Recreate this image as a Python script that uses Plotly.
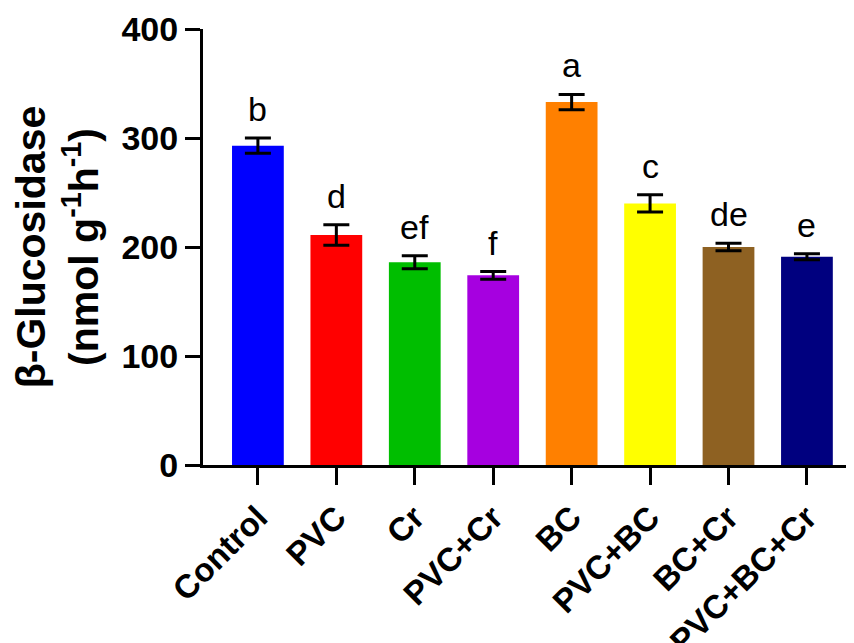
import plotly.graph_objects as go

categories = ["Control", "PVC", "Cr", "PVC+Cr", "BC", "PVC+BC", "BC+Cr", "PVC+BC+Cr"]
means = [293, 211, 186, 174, 333, 240, 200, 191]
errors = [7, 9.5, 6, 3.5, 7, 8, 3.5, 2.8]
letters = ["b", "d", "ef", "f", "a", "c", "de", "e"]
colors = ["#0000FF", "#FF0000", "#00BE00", "#A600E0", "#FF8000", "#FFFF00", "#8E6122", "#00007F"]
y_ticks = [0, 100, 200, 300, 400]

FONT = "Liberation Sans, Arial, Helvetica, sans-serif"

fig = go.Figure()
fig.add_trace(go.Bar(
    x=list(range(len(categories))),
    y=means,
    width=0.66,
    marker=dict(color=colors, line=dict(width=0)),
    error_y=dict(type="data", array=errors, visible=True, color="black", thickness=3, width=13),
    showlegend=False,
))

for i, (m, e, t) in enumerate(zip(means, errors, letters)):
    fig.add_annotation(x=i, y=m + e, text=t, showarrow=False, xref="x", yref="y",
                       yanchor="bottom", yshift=8,
                       font=dict(family=FONT, size=34, color="black"))

# page body has an 8px margin; figure sized to fill the rest of the window
fig.update_layout(
    width=846, height=635,
    margin=dict(l=195, r=0, t=21, b=178, autoexpand=False),
    paper_bgcolor="white", plot_bgcolor="white",
    bargap=0.34,
)
fig.update_xaxes(
    range=[-0.7, 7.6],
    tickmode="array", tickvals=list(range(len(categories))), ticktext=categories,
    tickangle=-45,
    ticks="outside", ticklen=17, tickwidth=3, tickcolor="black",
    showline=True, linewidth=3, linecolor="black",
    showgrid=False, zeroline=False,
    tickfont=dict(family=FONT, size=33, color="black", weight="bold"),
    automargin=False,
)
fig.update_yaxes(
    range=[0, 400],
    tickmode="array", tickvals=y_ticks, ticktext=[str(v) for v in y_ticks],
    ticks="outside", ticklen=15, tickwidth=3, tickcolor="black",
    showline=True, linewidth=3, linecolor="black",
    showgrid=False, zeroline=False,
    tickfont=dict(family=FONT, size=34, color="black", weight="bold"),
    title=dict(text="β-Glucosidase<br>(nmol g<sup>-1</sup>h<sup>-1</sup>)",
               font=dict(family=FONT, size=41, color="black", weight="bold"),
               standoff=14),
    automargin=False,
)

fig.write_html("out.html")
